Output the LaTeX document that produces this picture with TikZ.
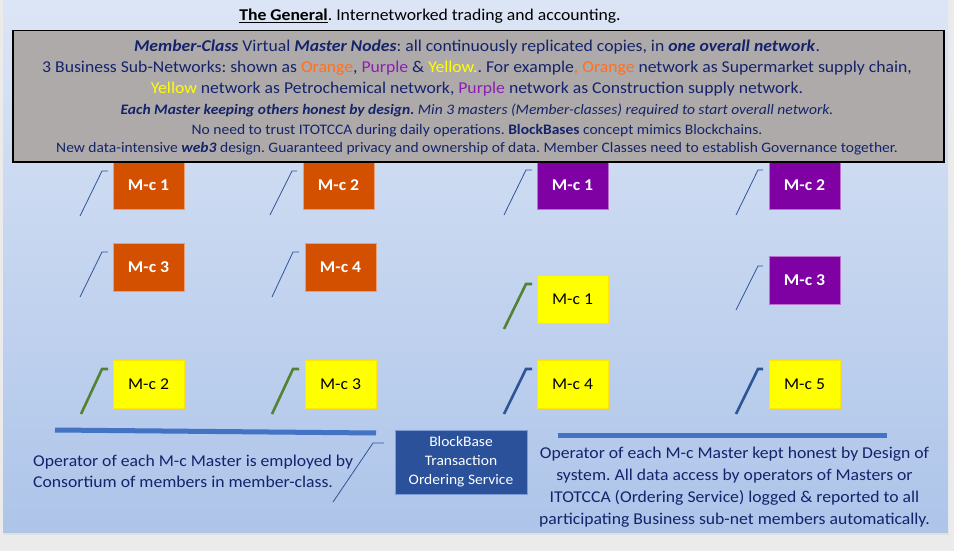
\documentclass[tikz,border=0pt]{standalone}
\usepackage{fontspec}
\setmainfont{Carlito}[FakeStretch=1.07]
\usetikzlibrary{calc}
\definecolor{outerbg}{HTML}{EBEBEB}
\definecolor{bgtop}{HTML}{F3F6FC}
\definecolor{bgmid}{HTML}{A6BFE7}
\definecolor{bgbot}{HTML}{BED1EF}
\definecolor{boxgray}{HTML}{AEAAAA}
\definecolor{navy}{HTML}{14236B}
\definecolor{orangeC}{HTML}{D35000}
\definecolor{purpleC}{HTML}{7F00A3}
\definecolor{yellowC}{HTML}{FFFF00}
\definecolor{wOrange}{HTML}{FF7020}
\definecolor{wPurple}{HTML}{8A1FB0}
\definecolor{wYellow}{HTML}{FFFF00}
\definecolor{lineblue}{HTML}{2F5597}
\definecolor{barblue}{HTML}{4472C4}
\definecolor{greenC}{HTML}{548235}
\definecolor{bbfill}{HTML}{2A519A}
\pgfdeclareverticalshading{slidebg}{100bp}{color(0bp)=(bgbot); color(17bp)=(bgmid); color(100bp)=(bgtop)}
\tikzset{
  mcbox/.style={minimum width=71pt, minimum height=48pt, inner sep=0pt, line width=0.6pt, font=\fontsize{16.5}{20}\selectfont},
  obox/.style={mcbox, fill=orangeC, draw=orangeC!55!white, text=white, font=\fontsize{16.5}{20}\selectfont\bfseries},
  pbox/.style={mcbox, fill=purpleC, draw=purpleC!55!white, text=white, font=\fontsize{16.5}{20}\selectfont\bfseries},
  ybox/.style={mcbox, fill=yellowC, draw=yellowC!80!orange, text=black},
  thincall/.style={draw=lineblue, line width=0.8pt},
  greencall/.style={draw=greenC, line width=2.6pt},
  bluecall/.style={draw=lineblue, line width=2.6pt},
  bar/.style={draw=barblue, line width=5pt},
  bigline/.style={anchor=base, text=navy, font=\fontsize{16.5}{18}\selectfont, inner sep=0pt},
  smallline/.style={anchor=base, text=navy, font=\fontsize{14.5}{16}\selectfont, inner sep=0pt},
  bottomtext/.style={text=navy, font=\fontsize{16.5}{21}\selectfont, inner sep=0pt}
}
\begin{document}
\frenchspacing
\begin{tikzpicture}[x=1pt,y=-1pt]
\useasboundingbox (0,0) rectangle (954,551);
\fill[outerbg] (0,0) rectangle (954,551);
\fill[black!12] (4,532) rectangle (949,535);
\shade[shading=slidebg] (3,0) rectangle (948,532);

% M-c boxes
\node[obox] (o1) at (148.5,185) {M-c 1};
\node[obox] (o2) at (338.5,185) {M-c 2};
\node[obox] (o3) at (148.5,267) {M-c 3};
\node[obox] (o4) at (340.5,267) {M-c 4};
\node[ybox] (ya) at (148.5,384) {M-c 2};
\node[ybox] (yb) at (340.5,384) {M-c 3};
\node[pbox] (p1) at (572.5,185) {M-c 1};
\node[pbox] (p2) at (804.5,185) {M-c 2};
\node[ybox] (yc) at (572.5,299) {M-c 1};
\node[pbox] (p3) at (804.5,280.5) {M-c 3};
\node[ybox] (yd) at (572.5,384) {M-c 4};
\node[ybox] (ye) at (804.5,384) {M-c 5};

% callout lines
\coordinate (a1) at (80,216); \coordinate (b1) at (102,171); \coordinate (c1) at (108,171);
\coordinate (a2) at (270,215); \coordinate (b2) at (292,171); \coordinate (c2) at (297,171);
\coordinate (a3) at (80,297); \coordinate (b3) at (102,252); \coordinate (c3) at (108,252);
\coordinate (a4) at (272,297); \coordinate (b4) at (293,252); \coordinate (c4) at (299,252);
\coordinate (a5) at (81,414); \coordinate (b5) at (102,369); \coordinate (c5) at (108,369);
\coordinate (a6) at (272,414); \coordinate (b6) at (293,369); \coordinate (c6) at (299,369);
\coordinate (a7) at (504,215); \coordinate (b7) at (526,170); \coordinate (c7) at (532,170);
\coordinate (a8) at (736,215); \coordinate (b8) at (758,170); \coordinate (c8) at (763,170);
\coordinate (a9) at (504,329); \coordinate (b9) at (526,284); \coordinate (c9) at (532,284);
\coordinate (a10) at (736,310); \coordinate (b10) at (758,266); \coordinate (c10) at (763,266);
\coordinate (a11) at (504,414); \coordinate (b11) at (526,369); \coordinate (c11) at (532,369);
\coordinate (a12) at (736,414); \coordinate (b12) at (758,369); \coordinate (c12) at (763,369);
\coordinate (a13) at (333,502); \coordinate (b13) at (373,443); \coordinate (c13) at (384,443);
\draw[thincall] (a1) -- (b1) -- (c1);
\draw[thincall] (a2) -- (b2) -- (c2);
\draw[thincall] (a3) -- (b3) -- (c3);
\draw[thincall] (a4) -- (b4) -- (c4);
\draw[greencall] (a5) -- (b5) -- (c5);
\draw[greencall] (a6) -- (b6) -- (c6);
\draw[thincall] (a7) -- (b7) -- (c7);
\draw[thincall] (a8) -- (b8) -- (c8);
\draw[greencall] (a9) -- (b9) -- (c9);
\draw[thincall] (a10) -- (b10) -- (c10);
\draw[bluecall] (a11) -- (b11) -- (c11);
\draw[bluecall] (a12) -- (b12) -- (c12);
\draw[thincall] (a13) -- (b13) -- (c13);

% bars
\coordinate (l1) at (55,430); \coordinate (l2) at (376,433);
\coordinate (r1) at (558,435); \coordinate (r2) at (887,435);
\draw[bar] (l1) -- (l2);
\draw[bar] (r1) -- (r2);

% info box
\node[draw=black, line width=1.5pt, fill=boxgray, minimum width=931pt, minimum height=131pt, anchor=north west, inner sep=0pt] (info) at (12,30) {};
\node[bigline] (t1) at (477,51.5) {\textbf{\textit{Member-Class}} Virtual \textbf{\textit{Master Nodes}}: all continuously replicated copies, in \textbf{\textit{one overall network}}.};
\node[bigline] (t2) at (477,72.5) {3 Business Sub-Networks: shown as \textcolor{wOrange}{Orange}, \textcolor{wPurple}{Purple} \& \textcolor{wYellow}{Yellow.}. For example\textcolor{wOrange}{, Orange} network as Supermarket supply chain,};
\node[bigline] (t3) at (477,93) {\textcolor{wYellow}{Yellow} network as Petrochemical network, \textcolor{wPurple}{Purple} network as Construction supply network.};
\node[smallline] (t4) at (477,114) {\textbf{\textit{Each Master keeping others honest by design.}} \textit{Min 3 masters (Member-classes) required to start overall network.}};
\node[smallline] (t5) at (477,134) {No need to trust ITOTCCA during daily operations. \textbf{BlockBases} concept mimics Blockchains.};
\node[smallline] (t6) at (477,152.5) {New data-intensive \textbf{\textit{web3}} design. Guaranteed privacy and ownership of data. Member Classes need to establish Governance together.};

% title
\node[anchor=base, inner sep=0pt, font=\fontsize{16.5}{18}\selectfont] (title) at (430,21) {\underline{\textbf{The General}}. Internetworked trading and accounting.};

% BlockBase
\node[fill=bbfill, draw=barblue!70!white, line width=0.6pt, minimum width=132pt, minimum height=64pt, inner sep=0pt, text=white, align=center, font=\fontsize{14.5}{19}\selectfont] (bb) at (461,462) {BlockBase\\Transaction\\Ordering Service};

% bottom texts
\node[bottomtext, anchor=north west, align=left] (lt) at (33,455) {Operator of each M-c Master is employed by\\Consortium of members in member-class.};
\node[bottomtext, anchor=north, align=center, font=\fontsize{16.5}{22}\selectfont] (rt) at (734.5,447) {Operator of each M-c Master kept honest by Design of\\system. All data access by operators of Masters or\\ITOTCCA (Ordering Service) logged \& reported to all\\participating Business sub-net members automatically.};
\end{tikzpicture}
\end{document}
